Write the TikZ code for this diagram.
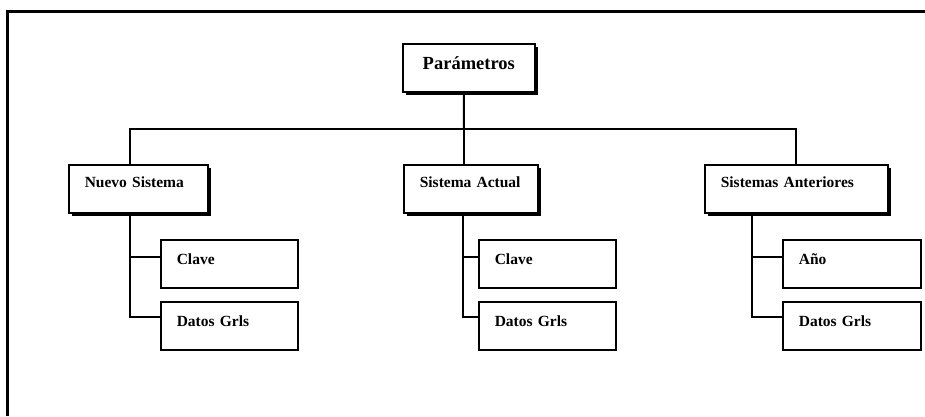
\documentclass[tikz,border=0pt]{standalone}
\usepackage{fontspec}
\setmainfont{Liberation Serif}
\usetikzlibrary{shadows}
\begin{document}
\begin{tikzpicture}[x=1pt,y=-1pt,
  box/.style={draw,line width=1.6pt,fill=white,anchor=north west,
    inner ysep=0pt,inner xsep=16pt,align=left,
    font=\fontsize{15.5}{17}\selectfont\bfseries},
  shadowed/.style={drop shadow={shadow xshift=3pt,shadow yshift=-3pt,
    fill=black,opacity=1}},
  headbox/.style={box,shadowed,text height=23pt,text depth=25pt},
  leafbox/.style={box,text height=25pt,text depth=23pt,
    text width=105pt},
  link/.style={line width=2pt},
  frameline/.style={line width=3pt}]
\useasboundingbox (0,0) rectangle (925,416);

% outer frame (top and left edges)
\coordinate (fTL) at (7,11);
\coordinate (fTR) at (925,11);
\coordinate (fBL) at (7,416);
\draw[frameline] (fTR) -- (fTL) -- (fBL);

% root
\node[box,shadowed,align=center,inner xsep=10pt,text width=112pt,
      text height=26pt,text depth=22pt,
      font=\fontsize{18.5}{20}\selectfont\bfseries] (root) at (402,43) {Parámetros};

% second level
\node[headbox,text width=107pt] (ns) at (68,164) {Nuevo Sistema};
\node[headbox,text width=102pt] (sa) at (403,164) {Sistema Actual};
\node[headbox,text width=151pt] (an) at (704,164) {Sistemas Anteriores};

% leaves
\node[leafbox] (ns1) at (160,239) {Clave};
\node[leafbox] (ns2) at (160,301) {Datos Grls};
\node[leafbox] (sa1) at (478,239) {Clave};
\node[leafbox] (sa2) at (478,301) {Datos Grls};
\node[leafbox,text width=106pt] (an1) at (782,239) {Año};
\node[leafbox,text width=106pt] (an2) at (782,301) {Datos Grls};

% bus from the root to the three systems
\coordinate (bus) at (464,129);
\draw[link] ([xshift=-5pt]root.south) -- (bus);
\draw[link] (ns.north -| 130,0) |- (bus) -| (an.north);
\draw[link] (bus) -- (sa.north -| bus);

% branches to the leaves
\coordinate (nsT) at (130,0);
\coordinate (saT) at (463,0);
\coordinate (anT) at (752,0);
\draw[link] (ns.south -| nsT) |- ([yshift=9pt]ns2.west);
\draw[link] ([yshift=7pt]ns1.west) -- ([yshift=7pt]ns1.west -| nsT);
\draw[link] (sa.south -| saT) |- ([yshift=9pt]sa2.west);
\draw[link] ([yshift=7pt]sa1.west) -- ([yshift=7pt]sa1.west -| saT);
\draw[link] (an.south -| anT) |- ([yshift=9pt]an2.west);
\draw[link] ([yshift=7pt]an1.west) -- ([yshift=7pt]an1.west -| anT);
\end{tikzpicture}
\end{document}
